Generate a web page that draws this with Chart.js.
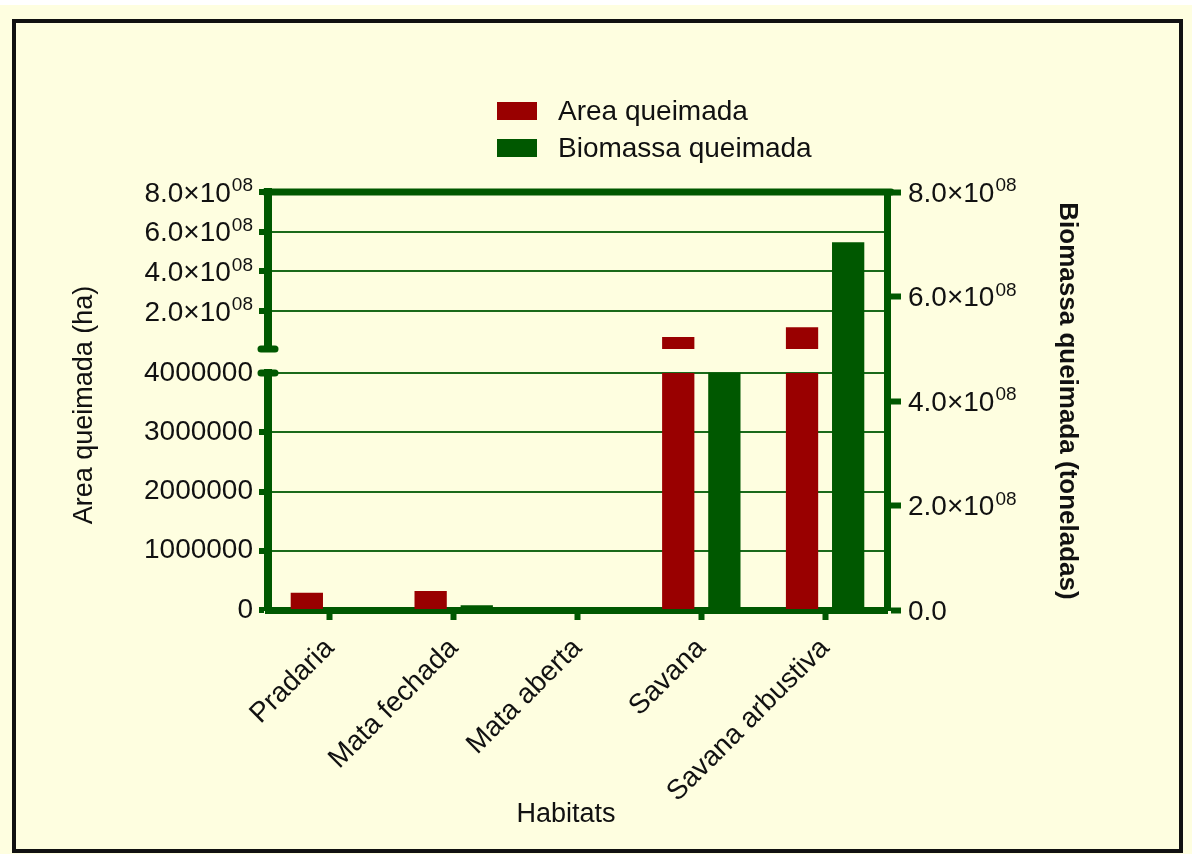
<!DOCTYPE html>
<html>
<head>
<meta charset="utf-8">
<script src="https://cdn.jsdelivr.net/npm/chart.js@4.4.0/dist/chart.umd.min.js"></script>
<style>
  html, body { margin: 0; padding: 0; }
  body { width: 1192px; height: 854px; background: #fefee0; position: relative; overflow: hidden;
         font-family: "Liberation Sans", Arial, sans-serif; }
  #topstrip { position: absolute; left: 0; top: 0; width: 1192px; height: 5px; background: #fff; }
  #frame { position: absolute; left: 12px; top: 19px; width: 1171px; height: 834px;
           border: 4px solid #111; box-sizing: border-box; }
  #wrap { position: absolute; left: 0; top: 0; width: 1192px; height: 854px; }
  #legend { position: absolute; left: 497px; top: 92px; }
  .item { display: flex; align-items: center; height: 37px; font-size: 28px; color: #111; }
  .box { width: 40px; height: 18px; margin-right: 21px; }
</style>
</head>
<body>
<div id="topstrip"></div>
<div id="frame"></div>
<div id="wrap"><canvas id="chart" width="1192" height="854"></canvas></div>
<div id="legend"></div>
<script>
// data
const habitats = ['Pradaria', 'Mata fechada', 'Mata aberta', 'Savana', 'Savana arbustiva'];
const areaQueimada = [290000, 320000, 0, 70000000, 120000000];      // ha
const biomassaQueimada = [0, 9000000, 0, 454000000, 704000000];     // toneladas
const lowTicks = [0, 1000000, 2000000, 3000000, 4000000];
const highTicks = [200000000, 400000000, 600000000, 800000000];
const rightTicks = [0, 200000000, 400000000, 600000000, 800000000];

// broken left axis limits
const LOW_MAX = 4000000;
const HIGH_MIN = 10000000;
const TOP = 800000000;

const RED = '#990000';
const GREEN = '#005800';
const GRID = '#1a6a1a';
const INK = '#111';
const FAMILY = '"Liberation Sans", Arial, sans-serif';

Chart.defaults.font.family = FAMILY;
Chart.defaults.font.size = 28;
Chart.defaults.color = INK;

const setTicks = list => s => { s.ticks = list.map(v => ({ value: v })); };

// lower part of the red bars, cut at the break
const areaLow = areaQueimada.map(v => Math.min(v, LOW_MAX));
// upper part of the red bars, above the break
const areaHigh = areaQueimada.map(v => v > LOW_MAX ? [HIGH_MIN, v] : null);

// "8.0×10" with a raised "08"
function drawSci(ctx, scale, list, x, side) {
  ctx.textBaseline = 'middle';
  ctx.textAlign = 'left';
  list.forEach(v => {
    const y = scale.getPixelForValue(v) + 2;
    ctx.font = '28px ' + FAMILY;
    if (v === 0) {
      ctx.fillText('0.0', side === 'left' ? x - ctx.measureText('0.0').width : x, y);
      return;
    }
    const base = (v / 1e8).toFixed(1) + '×10';
    const wb = ctx.measureText(base).width;
    ctx.font = '19px ' + FAMILY;
    const ws = ctx.measureText('08').width;
    const left = side === 'left' ? x - wb - ws - 1 : x;
    ctx.font = '28px ' + FAMILY;
    ctx.fillText(base, left, y);
    ctx.font = '19px ' + FAMILY;
    ctx.fillText('08', left + wb + 1, y - 8);
  });
}

// break marks, top frame line, sci labels and titles
const decor = {
  id: 'decor',
  afterDraw(chart) {
    const { ctx, chartArea, scales } = chart;
    ctx.save();
    ctx.strokeStyle = GREEN;
    ctx.lineCap = 'round';
    ctx.lineWidth = 7;
    ctx.beginPath();
    ctx.moveTo(chartArea.left - 3, chartArea.top);
    ctx.lineTo(scales.yRight.left + 4, chartArea.top);
    ctx.stroke();
    [scales.yHigh.bottom, scales.yLow.top].forEach(y => {
      ctx.beginPath();
      ctx.moveTo(chartArea.left - 7, y);
      ctx.lineTo(chartArea.left + 7, y);
      ctx.stroke();
    });
    ctx.fillStyle = INK;
    drawSci(ctx, scales.yHigh, highTicks, scales.yHigh.right - 15, 'left');
    drawSci(ctx, scales.yRight, rightTicks, scales.yRight.left + 21, 'right');

    ctx.font = '27px ' + FAMILY;
    ctx.textAlign = 'center';
    ctx.textBaseline = 'middle';
    ctx.fillText('Habitats', 566, 815);
    ctx.translate(85, (chartArea.top + chartArea.bottom) / 2 + 4);
    ctx.rotate(-Math.PI / 2);
    ctx.fillText('Area queimada (ha)', 0, 0);
    ctx.restore();
  }
};

const chart = new Chart(document.getElementById('chart'), {
  type: 'bar',
  data: {
    labels: habitats,
    datasets: [
      { label: 'Area queimada', data: areaLow, yAxisID: 'yLow', stack: 'area',
        backgroundColor: RED, legend: true },
      { label: 'Area queimada', data: areaHigh, yAxisID: 'yHigh', stack: 'area',
        backgroundColor: RED },
      { label: 'Biomassa queimada', data: biomassaQueimada, yAxisID: 'yRight', stack: 'bio',
        backgroundColor: GREEN, legend: true }
    ]
  },
  options: {
    responsive: false,
    animation: false,
    devicePixelRatio: 1,
    categoryPercentage: 0.745,
    barPercentage: 0.7,
    layout: { padding: { left: 0, top: 192, right: 100, bottom: 20 } },
    plugins: { legend: { display: false }, tooltip: { enabled: false } },
    scales: {
      x: {
        type: 'category',
        position: 'bottom',
        grid: { display: true, drawOnChartArea: false, offset: false,
                tickLength: 10, tickWidth: 6, tickColor: GREEN },
        border: { color: GREEN, width: 7 },
        ticks: { autoSkip: false, minRotation: 45, maxRotation: 45, padding: 12 },
        afterFit: s => { s.height = 224; }
      },
      yLow: {
        type: 'linear', position: 'left', stack: 'left', stackWeight: 237, weight: 1,
        min: 0, max: LOW_MAX, stacked: false,
        afterBuildTicks: setTicks(lowTicks),
        ticks: { callback: v => String(v), padding: 6 },
        grid: { color: GRID, lineWidth: 2, tickColor: GREEN, tickWidth: 6, tickLength: 9 },
        border: { color: GREEN, width: 8 },
        afterFit: s => { s.width = 268; }
      },
      yGap: {
        type: 'linear', position: 'left', stack: 'left', stackWeight: 24, weight: 2,
        min: 0, max: 1,
        ticks: { display: false },
        grid: { display: false },
        border: { display: false },
        afterFit: s => { s.width = 268; }
      },
      yHigh: {
        type: 'linear', position: 'left', stack: 'left', stackWeight: 157, weight: 3,
        min: HIGH_MIN, max: TOP, stacked: false,
        afterBuildTicks: setTicks(highTicks),
        ticks: { display: false },
        grid: { color: GRID, lineWidth: 2, tickColor: GREEN, tickWidth: 6, tickLength: 9 },
        border: { color: GREEN, width: 8 },
        afterFit: s => { s.width = 268; }
      },
      yRight: {
        type: 'linear', position: 'right',
        min: 0, max: TOP, stacked: false,
        afterBuildTicks: setTicks(rightTicks),
        ticks: { display: false },
        grid: { drawOnChartArea: false, tickColor: GREEN, tickWidth: 6, tickLength: 14 },
        border: { color: GREEN, width: 7 },
        title: { display: true, text: 'Biomassa queimada (toneladas)',
                 font: { size: 26, weight: 'bold' }, padding: { top: 9 } },
        afterFit: s => { s.width = 205; }
      }
    }
  },
  plugins: [decor]
});

// legend as html, from the datasets
const legend = document.getElementById('legend');
chart.data.datasets.filter(d => d.legend).forEach(d => {
  const row = document.createElement('div');
  row.className = 'item';
  row.innerHTML = `<span class="box" style="background:${d.backgroundColor}"></span>${d.label}`;
  legend.appendChild(row);
});
</script>
</body>
</html>
